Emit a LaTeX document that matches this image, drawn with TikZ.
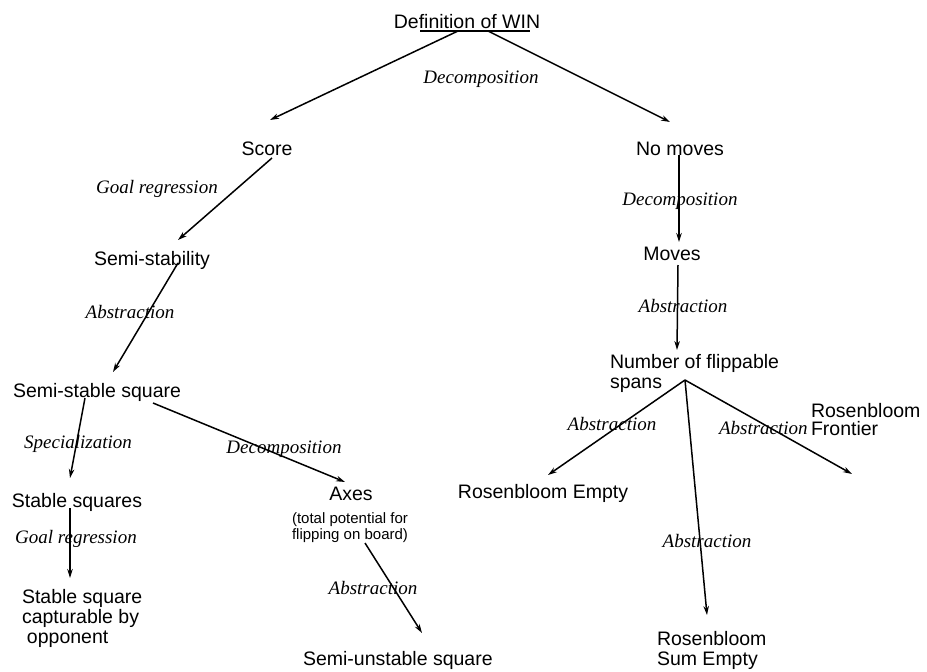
\documentclass[tikz,border=0pt]{standalone}
\usepackage{fontspec}
\setmainfont{Liberation Sans}
\newfontfamily\labfont{Liberation Serif}
\usetikzlibrary{arrows.meta}
\begin{document}
\begin{tikzpicture}[x=1pt,y=-1pt,
  every node/.style={inner sep=0pt, outer sep=0pt},
  concept/.style={font=\fontsize{19.5}{20}\selectfont, anchor=base},
  conceptl/.style={font=\fontsize{19.5}{20}\selectfont, anchor=base west},
  smalltext/.style={font=\fontsize{15}{16}\selectfont, anchor=base},
  rel/.style={font=\labfont\itshape\fontsize{19}{20}\selectfont, anchor=base},
  rell/.style={font=\labfont\itshape\fontsize{19}{20}\selectfont, anchor=base west},
  link/.style={line width=1.5pt, -{Stealth[length=9pt,width=5.5pt]}},
]
\useasboundingbox (0,0) rectangle (927,672);

% concepts
\node[concept] (win) at (467,28) {Definition of WIN};
\node[concept] (score) at (267,155) {Score};
\node[concept] (semistab) at (152,265) {Semi-stability};
\node[concept] (sss) at (97,397) {Semi-stable square};
\node[concept] (stable) at (77,507) {Stable squares};
\node[conceptl] (capt) at (22,603) {\begin{tabular}[t]{@{}l@{}}Stable square\\capturable by\\\hspace{5pt}opponent\end{tabular}};
\node[concept] (axes) at (351,500) {Axes};
\node[smalltext] (axnote) at (350,523) {\begin{tabular}[t]{@{}c@{}}(total potential for\\flipping on board)\end{tabular}};
\node[conceptl] (unst) at (303,665) {Semi-unstable square};
\node[concept] (nomoves) at (680,155) {No moves};
\node[concept] (moves) at (672,260) {Moves};
\node[conceptl] (nfs) at (610,368) {\begin{tabular}[t]{@{}l@{}}Number of flippable\\spans\end{tabular}};
\node[concept] (rempty) at (543,498) {Rosenbloom Empty};
\node[conceptl] (rsum) at (657,645) {\begin{tabular}[t]{@{}l@{}}Rosenbloom\\Sum Empty\end{tabular}};
\node[conceptl] (rfront) at (811,417) {\begin{tabular}[t]{@{}l@{}}Rosenbloom\\[-2pt]Frontier\end{tabular}};

% underline of the title
\draw[line width=1.5pt] ([shift={(-47,3)}]win.base) -- ([shift={(63,3)}]win.base);

% connectors
\draw[link] ([shift={(-9,3)}]win.base) -- ([shift={(3,-35)}]score.base);
\draw[link] ([shift={(21,3)}]win.base) -- ([shift={(-10,-33)}]nomoves.base);
\draw[link] ([shift={(5,3)}]score.base) -- ([shift={(26,-25)}]semistab.base);
\draw[link] ([shift={(26,-2)}]semistab.base) -- ([shift={(16,-25)}]sss.base);
\draw[link] ([shift={(-12,1)}]sss.base) -- ([shift={(-7,-29)}]stable.base);
\draw[link] ([shift={(56,6)}]sss.base) -- ([shift={(-6,-18)}]axes.base);
\draw[link] ([shift={(-7,1)}]stable.base) -- ([shift={(48,-25)}]capt.base west);
\draw[link] ([shift={(15,20)}]axnote.base) -- ([shift={(119,-32)}]unst.base west);
\draw[link] ([shift={(-1,0)}]nomoves.base) -- ([shift={(7,-18)}]moves.base);
\draw[link] ([shift={(6,5)}]moves.base) -- ([shift={(67,-18)}]nfs.base west);
\draw[link] ([shift={(75,12)}]nfs.base west) -- ([shift={(5,-23)}]rempty.base);
\draw[link] ([shift={(75,12)}]nfs.base west) -- ([shift={(50,-30)}]rsum.base west);
\draw[link] ([shift={(75,12)}]nfs.base west) -- ([shift={(41,57)}]rfront.base west);

% relation labels
\node[rel] (l1) at (481,83) {Decomposition};
\node[rel] (l2) at (157,193) {Goal regression};
\node[rel] (l3) at (130,318) {Abstraction};
\node[rel] (l4) at (78,448) {Specialization};
\node[rel] (l5) at (284,453) {Decomposition};
\node[rel] (l6) at (76,543) {Goal regression};
\node[rel] (l7) at (373,594) {Abstraction};
\node[rel] (l8) at (680,205) {Decomposition};
\node[rel] (l9) at (683,312) {Abstraction};
\node[rel] (l10) at (612,430) {Abstraction};
\node[rel] (l11) at (707,547) {Abstraction};
\node[rell] (l12) at (719,434) {Abstraction};
\end{tikzpicture}
\end{document}
